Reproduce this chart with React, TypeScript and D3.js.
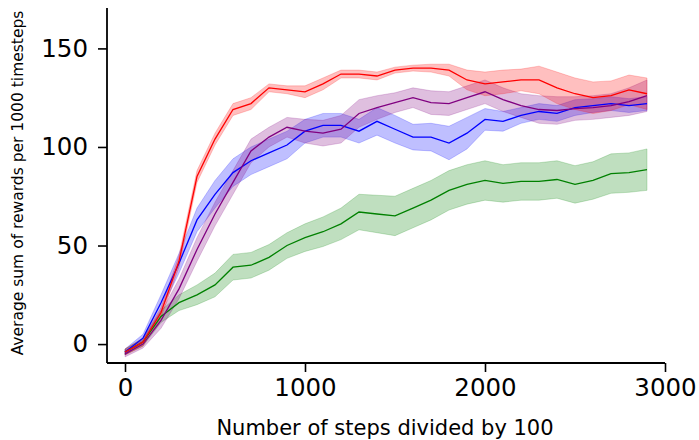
import React, { useRef, useEffect } from 'react';
import * as d3 from 'd3';

// steps (divided by 100)
const steps = [0, 100, 200, 300, 400, 500, 600, 700, 800, 900, 1000, 1100, 1200, 1300, 1400,
  1500, 1600, 1700, 1800, 1900, 2000, 2100, 2200, 2300, 2400, 2500, 2600, 2700, 2800, 2900];

const redMean = [-4, 1, 16, 42, 85, 104, 119, 122, 130, 129, 128, 132, 137, 137, 136,
  139, 140, 140, 139, 134, 132, 133, 134, 134, 130, 127, 125, 126, 129, 127];
const redStd = [1.5, 2, 2.5, 3, 3, 3, 3, 3, 2, 2, 3, 3, 2, 2, 2,
  1.5, 1.5, 2, 3, 5, 6, 6, 5.5, 7, 8, 8, 8, 7.5, 7.5, 8];

const blueMean = [-4, 3, 21, 41, 63, 76, 87, 93, 97, 101, 108, 111, 111, 108, 113,
  109, 105, 105, 102, 107, 114, 113, 116, 118, 117, 120, 121, 122, 121, 122];
const blueStd = [1.5, 2, 4, 5, 6, 7, 7, 7, 7, 7, 6, 6, 6, 6, 7,
  7, 6.5, 7, 8.5, 8, 5.5, 5, 4, 4, 4, 4, 3.5, 3.5, 3.5, 3.5];

const purpleMean = [-5, 0, 12, 28, 48, 66, 82, 98, 105, 110, 108, 107, 109, 117, 120,
  122.5, 125, 122.5, 122, 125, 128, 124, 121, 119, 118.5, 119.5, 120, 121, 123, 126];
const purpleStd = [1.5, 2, 4, 5, 6, 6, 6, 6, 5, 5, 6, 6.5, 7, 7, 6,
  5, 5, 6, 6, 6, 6, 6, 6, 7, 7, 6, 6, 6, 7, 8];

const greenMean = [-4, 1, 14, 21, 25, 30, 39, 40, 44, 50, 54, 57, 61, 67, 66,
  65, 69, 73, 78, 81, 83, 81.5, 82.5, 82.5, 83.5, 81, 83, 86.5, 87, 88.5];
const greenStd = [1.5, 2, 3, 4, 5, 6, 6.5, 6.5, 6.5, 6.5, 7, 7.5, 8, 9, 9.5,
  10, 10, 10, 10, 10, 10, 9.5, 9.5, 9.5, 9.5, 9.5, 9.5, 10, 10, 10.5];

const xTicks = [0, 1000, 2000, 3000];
const yTicks = [0, 50, 100, 150];

const series = [
  { color: 'green', mean: greenMean, std: greenStd },
  { color: 'blue', mean: blueMean, std: blueStd },
  { color: 'purple', mean: purpleMean, std: purpleStd },
  { color: 'red', mean: redMean, std: redStd },
];

const App = () => {
  const svgRef = useRef<SVGSVGElement>(null);
  const width = 699;
  const height = 440;

  useEffect(() => {
    const svg = d3.select(svgRef.current);
    svg.selectAll('*').remove();

    const x = d3.scaleLinear().domain([-100, 3000]).range([107, 665]);
    const y = d3.scaleLinear().domain([-9.6, 170.5]).range([363, 8]);
    const font = 'DejaVu Sans, sans-serif';

    series.forEach((s) => {
      const pts = steps.map((t, i) => ({ t, m: s.mean[i], sd: s.std[i] }));
      const area = d3.area<any>()
        .x((d) => x(d.t))
        .y0((d) => y(d.m - d.sd))
        .y1((d) => y(d.m + d.sd));
      svg.append('path')
        .attr('d', area(pts))
        .attr('fill', s.color)
        .attr('fill-opacity', 0.25)
        .attr('stroke', s.color)
        .attr('stroke-opacity', 0.2)
        .attr('stroke-width', 1);
    });

    series.forEach((s) => {
      const line = d3.line<number>()
        .x((_, i) => x(steps[i]))
        .y((d) => y(d));
      svg.append('path')
        .attr('d', line(s.mean))
        .attr('fill', 'none')
        .attr('stroke', s.color)
        .attr('stroke-width', 1.3);
    });

    // x axis
    const xAxis = d3.axisBottom(x).tickValues(xTicks).tickSize(9).tickPadding(7).tickFormat(d3.format('d'));
    const gx = svg.append('g').attr('transform', 'translate(0,363)').call(xAxis);
    gx.select('.domain').attr('d', 'M107,0H665').attr('stroke-width', 1.8);
    gx.selectAll('.tick line').attr('stroke-width', 1.6);
    gx.selectAll('.tick text').attr('font-size', 24.5).attr('font-family', font).attr('fill', '#000');

    // y axis
    const yAxis = d3.axisLeft(y).tickValues(yTicks).tickSize(9).tickPadding(10).tickFormat(d3.format('d'));
    const gy = svg.append('g').attr('transform', 'translate(107,0)').call(yAxis);
    gy.select('.domain').attr('d', 'M0,8V363').attr('stroke-width', 1.8);
    gy.selectAll('.tick line').attr('stroke-width', 1.6);
    gy.selectAll('.tick text').attr('font-size', 24.5).attr('font-family', font).attr('fill', '#000');

    svg.append('text')
      .attr('x', 385)
      .attr('y', 435)
      .attr('text-anchor', 'middle')
      .attr('font-family', font)
      .attr('font-size', 21)
      .text('Number of steps divided by 100');

    svg.append('text')
      .attr('transform', 'translate(23,183) rotate(-90)')
      .attr('text-anchor', 'middle')
      .attr('font-family', font)
      .attr('font-size', 15.5)
      .text('Average sum of rewards per 1000 timesteps');
  }, []);

  return (
    <svg
      ref={svgRef}
      width={width}
      height={height}
      style={{ position: 'absolute', left: 0, top: 0, background: '#fff' }}
    />
  );
};

export default App;
